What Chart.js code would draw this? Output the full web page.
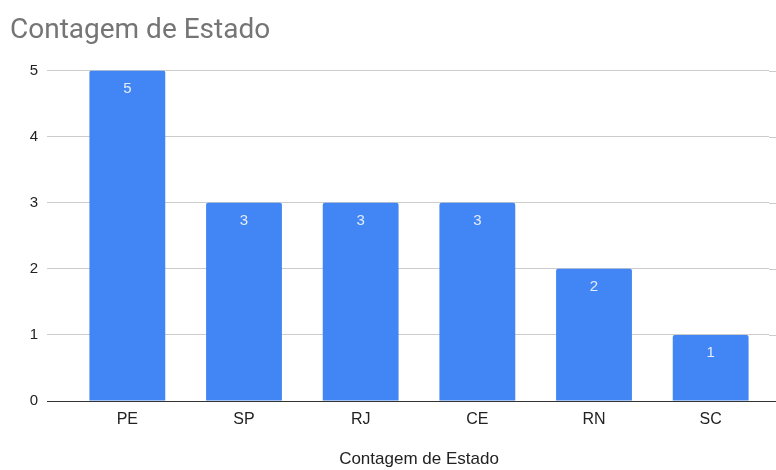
<!DOCTYPE html>
<html>
<head>
<meta charset="utf-8">
<script src="https://cdn.jsdelivr.net/npm/chart.js@4"></script>
<style>
html,body{margin:0;padding:0;background:#fff;}
#wrap{width:776px;height:470px;position:relative;}
</style>
</head>
<body>
<div id="wrap"><canvas id="c" width="776" height="470"></canvas></div>
<script>
const categories = ["PE", "SP", "RJ", "CE", "RN", "SC"];
const counts = [5, 3, 3, 3, 2, 1];
const yTicks = [0, 1, 2, 3, 4, 5];
const chartTitle = "Contagem de Estado";
const axisTitle = "Contagem de Estado";

const FONT = "'Liberation Sans', Arial, sans-serif";
const TITLE_FONT = "Roboto, Arial, sans-serif";

const valueLabels = {
  id: 'valueLabels',
  afterDatasetsDraw(chart) {
    const ctx = chart.ctx;
    const meta = chart.getDatasetMeta(0);
    ctx.save();
    ctx.font = "15px " + FONT;
    ctx.fillStyle = "rgba(255,255,255,0.85)";
    ctx.textAlign = "center";
    ctx.textBaseline = "middle";
    meta.data.forEach((bar, i) => {
      ctx.fillText(String(counts[i]), bar.x, bar.y + 18);
    });
    ctx.restore();
  }
};

const extendGrid = {
  id: 'extendGrid',
  beforeDatasetsDraw(chart) {
    const ctx = chart.ctx;
    const y = chart.scales.y;
    const area = chart.chartArea;
    ctx.save();
    yTicks.forEach(v => {
      const py = Math.round(y.getPixelForValue(v)) + 0.5;
      ctx.strokeStyle = v === 0 ? "#333333" : "#cccccc";
      ctx.lineWidth = 1;
      ctx.beginPath();
      ctx.moveTo(area.right, py);
      ctx.lineTo(chart.width, py);
      ctx.stroke();
    });
    ctx.restore();
  }
};

new Chart(document.getElementById('c'), {
  type: 'bar',
  data: {
    labels: categories,
    datasets: [{
      data: counts,
      backgroundColor: "#4285f4",
      borderRadius: 2,
      borderSkipped: 'bottom',
      barPercentage: 0.65,
      categoryPercentage: 1.0
    }]
  },
  options: {
    responsive: false,
    animation: false,
    layout: { padding: { left: 10, right: 7, top: 0, bottom: 0 } },
    plugins: {
      legend: { display: false },
      tooltip: { enabled: false },
      title: {
        display: true,
        text: chartTitle,
        align: 'start',
        color: "#757575",
        font: { family: TITLE_FONT, size: 28, weight: 'normal' },
        padding: { top: 14, bottom: 23 }
      }
    },
    scales: {
      x: {
        grid: { display: false, drawTicks: false },
        border: { display: false },
        ticks: { color: "#222222", font: { family: FONT, size: 16 }, padding: 9 },
        title: {
          display: true,
          text: axisTitle,
          color: "#222222",
          font: { family: FONT, size: 17 },
          padding: { top: 0, bottom: 0 }
        },
        afterFit(scale) { scale.height = 69; }
      },
      y: {
        min: 0,
        max: 5,
        afterBuildTicks(scale) { scale.ticks = yTicks.map(v => ({ value: v })); },
        grid: {
          color: ctx => ctx.tick && ctx.tick.value === 0 ? "#333333" : "#cccccc",
          tickColor: ctx => ctx.tick && ctx.tick.value === 0 ? "#333333" : "#cccccc",
          drawTicks: true,
          tickLength: 22
        },
        border: { display: false },
        ticks: { color: "#222222", font: { family: FONT, size: 15 }, padding: 9 },
        afterFit(scale) { scale.width = 59; }
      }
    }
  },
  plugins: [extendGrid, valueLabels]
});
</script>
</body>
</html>
